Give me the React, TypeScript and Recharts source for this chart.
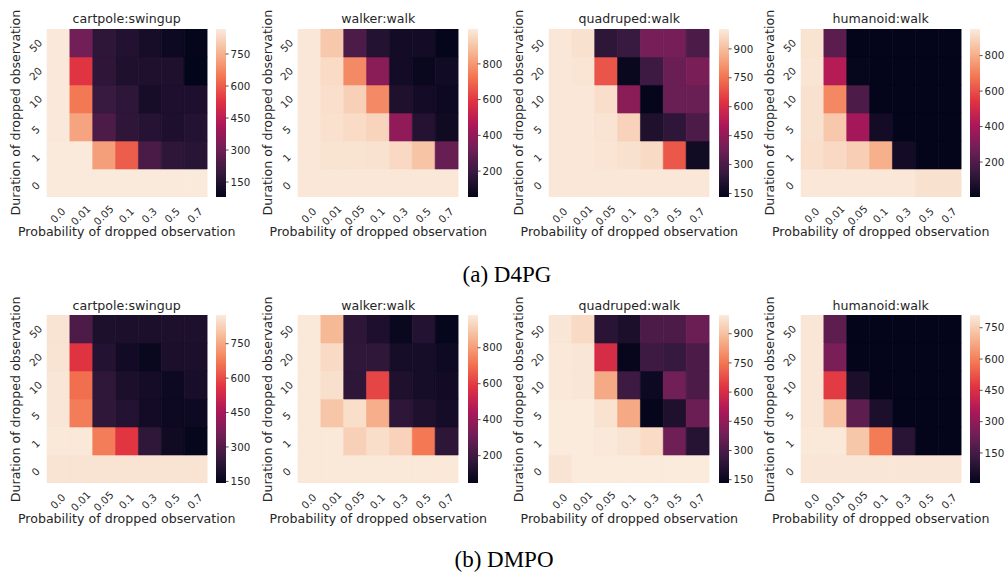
import React from 'react';
import { BarChart, Bar, XAxis, YAxis, Cell } from 'recharts';

// ---------- categories / tick labels ----------
const probLabels = ['0.0', '0.01', '0.05', '0.1', '0.3', '0.5', '0.7'];
const durationLabels = ['50', '20', '10', '5', '1', '0']; // top -> bottom
const panelTitles = ['cartpole:swingup', 'walker:walk', 'quadruped:walk', 'humanoid:walk'];
const captions = ['(a) D4PG', '(b) DMPO'];

// ---------- series values (rows top->bottom: duration 50,20,10,5,1,0) ----------
const d4pgCartpole = [
  [862, 310, 175, 150, 127, 104, 84],
  [862, 532, 178, 143, 143, 143, 80],
  [862, 647, 198, 175, 127, 139, 139],
  [862, 725, 237, 178, 159, 139, 155],
  [865, 865, 717, 600, 230, 175, 163],
  [865, 865, 865, 865, 865, 865, 865],
];
const d4pgWalker = [
  [985, 910, 243, 140, 100, 100, 60],
  [985, 955, 770, 381, 100, 75, 95],
  [985, 965, 930, 770, 130, 100, 85],
  [985, 970, 955, 940, 395, 145, 90],
  [985, 975, 975, 972, 950, 900, 300],
  [985, 985, 985, 985, 985, 985, 985],
];
const d4pgQuadruped = [
  [995, 980, 237, 263, 393, 393, 306],
  [995, 990, 693, 150, 271, 367, 402],
  [995, 995, 975, 434, 136, 367, 367],
  [995, 995, 985, 947, 202, 237, 306],
  [995, 995, 990, 980, 965, 698, 167],
  [995, 995, 995, 995, 995, 995, 995],
];
const d4pgHumanoid = [
  [930, 225, 5, 5, 5, 5, 5],
  [935, 430, 12, 5, 5, 5, 5],
  [925, 718, 192, 5, 5, 5, 5],
  [925, 865, 390, 50, 5, 5, 5],
  [920, 905, 880, 808, 50, 5, 5],
  [940, 940, 940, 940, 940, 925, 925],
];
const dmpoCartpole = [
  [860, 290, 198, 194, 194, 198, 198],
  [860, 560, 213, 176, 158, 194, 194],
  [865, 655, 235, 194, 180, 165, 190],
  [865, 677, 235, 210, 178, 165, 165],
  [870, 870, 677, 564, 235, 170, 150],
  [860, 860, 860, 860, 860, 860, 860],
];
const dmpoWalker = [
  [975, 860, 160, 118, 67, 137, 55],
  [975, 940, 165, 165, 100, 100, 80],
  [975, 955, 160, 618, 123, 100, 90],
  [975, 893, 950, 837, 160, 123, 95],
  [975, 975, 917, 950, 922, 720, 160],
  [975, 975, 975, 975, 975, 975, 975],
];
const dmpoQuadruped = [
  [985, 957, 228, 193, 306, 306, 366],
  [990, 985, 600, 142, 271, 258, 306],
  [990, 985, 850, 271, 160, 380, 306],
  [995, 995, 975, 850, 138, 202, 366],
  [995, 995, 990, 980, 960, 375, 220],
  [980, 995, 995, 995, 995, 995, 995],
];
const dmpoHumanoid = [
  [800, 200, 8, 8, 8, 8, 8],
  [800, 255, 8, 8, 8, 8, 8],
  [800, 480, 62, 8, 8, 8, 8],
  [800, 727, 200, 62, 8, 8, 8],
  [805, 805, 735, 590, 95, 8, 8],
  [800, 800, 800, 800, 800, 800, 800],
];

// colour ranges [vmin, vmax]
const d4pgRanges = [[80, 867], [55, 995], [132, 1003], [3, 950]];
const dmpoRanges = [[143, 875], [48, 982], [133, 996], [6, 811]];

// colorbar tick labels
const ticks150 = [150, 300, 450, 600, 750];
const ticks200 = [200, 400, 600, 800];
const ticks150q = [150, 300, 450, 600, 750, 900];
const d4pgCbTicks = [ticks150, ticks200, ticks150q, ticks200];
const dmpoCbTicks = [ticks150, ticks200, ticks150q, ticks150];

const d4pgValues = [d4pgCartpole, d4pgWalker, d4pgQuadruped, d4pgHumanoid];
const dmpoValues = [dmpoCartpole, dmpoWalker, dmpoQuadruped, dmpoHumanoid];

// ---------- rocket colormap ----------
const ROCKET: [number, string][] = [
  [0, '#03051a'],
  [1 / 7, '#35193e'],
  [2 / 7, '#701f57'],
  [3 / 7, '#ad1759'],
  [4 / 7, '#e13342'],
  [5 / 7, '#f37651'],
  [6 / 7, '#f6b48f'],
  [1, '#faebdd'],
];
function hexToRgb(h: string) {
  return [parseInt(h.slice(1, 3), 16), parseInt(h.slice(3, 5), 16), parseInt(h.slice(5, 7), 16)];
}
function rocket(t: number) {
  const x = Math.max(0, Math.min(1, t));
  for (let i = 0; i < ROCKET.length - 1; i++) {
    const [t0, c0] = ROCKET[i];
    const [t1, c1] = ROCKET[i + 1];
    if (x <= t1) {
      const f = (x - t0) / (t1 - t0);
      const a = hexToRgb(c0);
      const b = hexToRgb(c1);
      const c = a.map((v, k) => Math.round(v + (b[k] - v) * f));
      return `rgb(${c[0]},${c[1]},${c[2]})`;
    }
  }
  return ROCKET[ROCKET.length - 1][1];
}

// ---------- layout ----------
const FONT = '"DejaVu Sans", sans-serif';
const INK = '#262626';
const HM_W = 160;
const HM_H = 168;
const colLefts = [46.7, 298.3, 549.3, 800.7];
const rowTops = [28.6, 315.4];
const CB_OFF = 169.3;
const CB_W = 9.6;
const TICK_FS = 10.3;
const LABEL_FS = 12.6;

const XTick = (props: any) => {
  const { x, y, payload } = props;
  const cx = x - 0.8;
  const cy = y + 18;
  return (
    <text
      x={cx}
      y={cy}
      transform={`rotate(-45 ${cx} ${cy})`}
      textAnchor="middle"
      dominantBaseline="central"
      fontSize={TICK_FS}
      fontFamily={FONT}
      fill={INK}
    >
      {payload.value}
    </text>
  );
};

const YTick = (props: any) => {
  const { x, y, payload } = props;
  const idx = durationLabels.length - 1 - Math.floor(payload.value);
  const cx = x - 11.5;
  const cy = y + 2.5;
  return (
    <text
      x={cx}
      y={cy}
      transform={`rotate(-45 ${cx} ${cy})`}
      textAnchor="middle"
      dominantBaseline="central"
      fontSize={TICK_FS}
      fontFamily={FONT}
      fill={INK}
    >
      {durationLabels[idx]}
    </text>
  );
};

function Heatmap({ values, vmin, vmax, left, top }: any) {
  const n = durationLabels.length;
  const data = probLabels.map((p) => {
    const o: any = { prob: p };
    for (let i = 0; i < n; i++) o['r' + i] = 1;
    return o;
  });
  const bottomFirst = durationLabels.map((_, i) => n - 1 - i); // row indices, bottom first
  const yTicks = durationLabels.map((_, i) => i + 0.5);
  return (
    <div style={{ position: 'absolute', left: left - 40, top: top - 10 }}>
      <BarChart
        width={40 + HM_W + 10}
        height={10 + HM_H + 40}
        data={data}
        margin={{ top: 10, right: 10, bottom: 0, left: 0 }}
        barCategoryGap={0}
        barGap={0}
      >
        <XAxis
          dataKey="prob"
          type="category"
          height={40}
          axisLine={false}
          tickLine={false}
          tickSize={0}
          tickMargin={0}
          interval={0}
          tick={XTick}
        />
        <YAxis
          type="number"
          domain={[0, n]}
          ticks={yTicks}
          width={40}
          axisLine={false}
          tickLine={false}
          tickSize={0}
          tickMargin={0}
          interval={0}
          tick={YTick}
          allowDataOverflow
        />
        {bottomFirst.map((ri) => (
          <Bar key={ri} dataKey={'r' + ri} stackId="s" isAnimationActive={false}>
            {probLabels.map((_, ci) => {
              const col = rocket((values[ri][ci] - vmin) / (vmax - vmin));
              return <Cell key={ci} fill={col} stroke={col} strokeWidth={0.6} />;
            })}
          </Bar>
        ))}
      </BarChart>
    </div>
  );
}

function Colorbar({ vmin, vmax, ticks, left, top }: any) {
  const data = [{ k: 'cb', v: [vmin, vmax] }];
  return (
    <div style={{ position: 'absolute', left, top: top - 10 }}>
      <BarChart
        width={CB_W + 36}
        height={10 + HM_H + 40}
        data={data}
        margin={{ top: 10, right: 0, bottom: 40, left: 0 }}
        barCategoryGap={0}
      >
        <XAxis dataKey="k" hide />
        <YAxis
          orientation="right"
          type="number"
          domain={[vmin, vmax]}
          ticks={ticks}
          width={36}
          axisLine={false}
          tickSize={3}
          tickMargin={2}
          interval={0}
          allowDataOverflow
          tickLine={{ stroke: INK, strokeWidth: 0.8 }}
          tick={{ fill: INK, fontSize: TICK_FS, fontFamily: FONT }}
        />
        <Bar dataKey="v" fill="url(#rocketGrad)" isAnimationActive={false} />
      </BarChart>
    </div>
  );
}

export default function App() {
  const rows = [
    { values: d4pgValues, ranges: d4pgRanges, cbTicks: d4pgCbTicks },
    { values: dmpoValues, ranges: dmpoRanges, cbTicks: dmpoCbTicks },
  ];
  return (
    <div
      style={{
        position: 'absolute',
        left: 0,
        top: 0,
        width: 1008,
        height: 575,
        background: '#ffffff',
        overflow: 'hidden',
      }}
    >
      <svg width={0} height={0} style={{ position: 'absolute' }}>
        <defs>
          <linearGradient id="rocketGrad" x1="0" y1="1" x2="0" y2="0">
            {ROCKET.map(([t, c], i) => (
              <stop key={i} offset={t} stopColor={c} />
            ))}
          </linearGradient>
        </defs>
      </svg>
      {rows.map((row, r) =>
        colLefts.map((hl, p) => (
          <React.Fragment key={`${r}-${p}`}>
            <Heatmap
              values={row.values[p]}
              vmin={row.ranges[p][0]}
              vmax={row.ranges[p][1]}
              left={hl}
              top={rowTops[r]}
            />
            <Colorbar
              vmin={row.ranges[p][0]}
              vmax={row.ranges[p][1]}
              ticks={row.cbTicks[p]}
              left={hl + CB_OFF}
              top={rowTops[r]}
            />
          </React.Fragment>
        ))
      )}
      <svg
        width={1008}
        height={575}
        style={{ position: 'absolute', left: 0, top: 0, pointerEvents: 'none' }}
      >
        {rowTops.map((ht, r) =>
          colLefts.map((hl, p) => (
            <g key={`t-${r}-${p}`} fontFamily={FONT} fill={INK}>
              <text x={hl + HM_W / 2} y={ht - 5.3} textAnchor="middle" fontSize={LABEL_FS}>
                {panelTitles[p]}
              </text>
              <text x={hl + HM_W / 2} y={ht + HM_H + 39.2} textAnchor="middle" fontSize={LABEL_FS}>
                Probability of dropped observation
              </text>
              <text
                x={hl - 26.2}
                y={ht + HM_H / 2}
                transform={`rotate(-90 ${hl - 26.2} ${ht + HM_H / 2})`}
                textAnchor="middle"
                fontSize={LABEL_FS}
              >
                Duration of dropped observation
              </text>
            </g>
          ))
        )}
        <text
          x={507}
          y={282}
          textAnchor="middle"
          fontSize={23}
          fontFamily={'"Liberation Serif", "Times New Roman", serif'}
          fill="#000"
        >
          {captions[0]}
        </text>
        <text
          x={504}
          y={567}
          textAnchor="middle"
          fontSize={23}
          fontFamily={'"Liberation Serif", "Times New Roman", serif'}
          fill="#000"
        >
          {captions[1]}
        </text>
      </svg>
    </div>
  );
}
